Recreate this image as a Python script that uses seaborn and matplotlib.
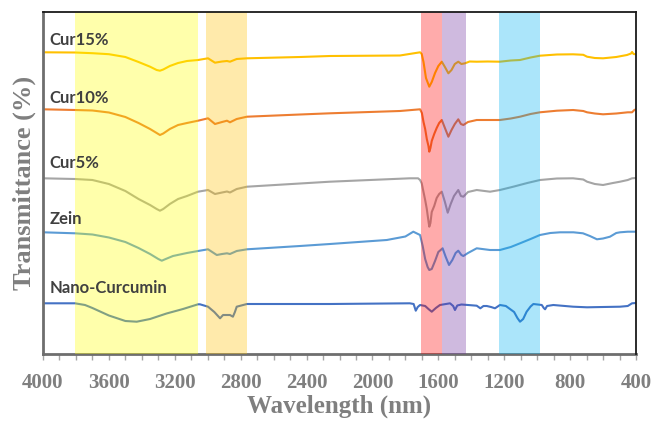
import numpy as np
import pandas as pd
import matplotlib
matplotlib.use("Agg")
import matplotlib.pyplot as plt
import seaborn as sns

# ---- data (wavenumber, transmittance in arbitrary offset units) ----
series_names = ["Cur15%", "Cur10%", "Cur5%", "Zein", "Nano-Curcumin"]
series_colors = ["#FFC000", "#ED7D31", "#A5A5A5", "#5B9BD5", "#4472C4"]

cur15_x = [4000, 3806, 3700, 3600, 3500, 3420, 3350, 3310, 3290, 3270, 3230, 3180, 3126, 3059,
           2998, 2956, 2913, 2883, 2865, 2824, 2762, 2440, 2258, 1833, 1711, 1701, 1690, 1675,
           1655, 1640, 1620, 1600, 1579, 1560, 1539, 1520, 1500, 1479, 1460, 1438, 1410, 1367,
           1300, 1226, 1160, 1104, 1040, 983, 880, 782, 720, 697, 650, 600, 520, 455, 430, 424,
           415, 400]
cur15_y = [301.7, 301.5, 300.8, 299.8, 297, 292, 287.3, 284, 283.3, 284.5, 288, 291, 293, 294,
           295.7, 291.3, 292.5, 293, 292.3, 295, 295.7, 297, 298, 298.5, 301.7, 300, 292, 276,
           267.3, 272, 281, 288, 292.3, 287, 280.7, 284, 290, 292.3, 290, 290.7, 292.5, 292.3,
           292.5, 292.3, 293.5, 294, 296.5, 298.3, 299.5, 299.7, 299.2, 297.3, 296, 295.7, 297, 299,
           300.5, 302, 300, 299.7]

cur10_x = [4000, 3806, 3700, 3600, 3500, 3420, 3350, 3310, 3290, 3270, 3230, 3180, 3126, 3059,
           2998, 2956, 2913, 2883, 2865, 2824, 2762, 2440, 2258, 1833, 1711, 1700, 1690, 1680,
           1670, 1660, 1655, 1648, 1640, 1625, 1610, 1595, 1579, 1560, 1539, 1520, 1500, 1479,
           1463, 1448, 1420, 1367, 1300, 1226, 1160, 1104, 1040, 983, 880, 782, 720, 697, 650, 600,
           520, 450, 424, 410, 400]
cur10_y = [244.7, 244, 243.5, 241.5, 237, 231, 225, 221, 219, 220.5, 225, 229, 231, 233.3,
           235.7, 230, 232, 233.3, 231.7, 235, 237.3, 239.5, 240.7, 243, 244.7, 241, 232, 225,
           215, 208, 202.3, 206, 213, 220, 226, 231, 234, 226, 217.3, 224, 230, 234.7,
           230, 229, 232, 234, 234, 234, 235.5, 237.3, 240, 241.7, 243.3, 244, 243, 241.7, 240.5, 239.7,
           240.5, 241.7, 241.7, 244, 244.7]

cur5_x = [4000, 3806, 3700, 3600, 3500, 3420, 3350, 3310, 3290, 3270, 3230, 3180, 3126, 3059,
          2998, 2956, 2913, 2883, 2865, 2824, 2762, 2440, 2258, 1773, 1723, 1711, 1701, 1690,
          1680, 1670, 1660, 1655, 1648, 1640, 1625, 1610, 1595, 1579, 1560, 1543, 1525, 1505,
          1479, 1463, 1448, 1420, 1367, 1286, 1226, 1145, 1060, 983, 880, 782, 720, 697, 650, 600,
          540, 497, 450, 424, 400]
cur5_y = [175.7, 175, 174, 170, 163, 155, 149, 145, 143.3, 145, 150, 155, 158, 162.3,
          164, 160, 161.5, 162.5, 161.5, 165, 167.3, 170.5, 172.3, 175.7, 175.7, 174, 170.7, 162,
          154, 145, 133, 127.3, 131, 142, 148, 156, 160, 162.3, 152, 141.3, 150, 158,
          164, 158, 157.3, 162, 164, 162.3, 164, 167.3, 171, 174, 175.5, 175.7, 174.5, 172.3, 170, 169,
          171, 172.3, 174, 175.7, 176]

zein_x = [4000, 3806, 3700, 3600, 3500, 3420, 3350, 3300, 3279, 3255, 3211, 3126, 3059,
          2998, 2945, 2913, 2883, 2865, 2824, 2762, 2440, 2258, 1913, 1800, 1752, 1711, 1695,
          1680, 1665, 1655, 1640, 1620, 1600, 1574, 1555, 1535, 1515, 1495, 1479, 1460, 1448,
          1420, 1367, 1286, 1226, 1160, 1104, 1040, 983, 920, 861, 780, 722, 680, 637, 600, 558,
          520, 497, 450, 400]
zein_y = [121.7, 120.7, 119.5, 116.5, 112, 106, 100, 95, 93.3, 95, 98, 101, 103,
          104.7, 99, 100, 100.7, 100, 103, 104.7, 108, 110, 114, 117.5, 122.3, 119, 108,
          95, 87, 84, 85, 93, 102, 105.7, 97, 89, 94, 101, 103.3, 99, 98,
          101, 105.7, 104, 104, 107, 110.7, 115, 119, 121, 121.7, 121.7, 120.7, 118, 114.7, 115.5, 117.3,
          121, 121.7, 122.3, 122.3]

nano_x = [4000, 3806, 3745, 3700, 3600, 3500, 3431, 3350, 3250, 3150, 3059, 3047, 2998, 2960,
          2925, 2907, 2865, 2847, 2835, 2824, 2762, 2258, 1773, 1750, 1737, 1725, 1711, 1680,
          1660, 1640, 1615, 1590, 1529, 1510, 1499, 1485, 1460, 1420, 1367, 1345, 1326, 1306,
          1280, 1256, 1226, 1190, 1165, 1140, 1120, 1104, 1085, 1064, 1040, 1023, 972, 960, 952,
          940, 902, 782, 697, 600, 497, 450, 424, 400]
nano_y = [50.7, 50.7, 49, 46, 38.5, 33, 32.3, 35, 40.5, 45, 49.7, 49.7, 47.3, 42,
          35.7, 39, 39, 37.3, 42, 47.3, 50, 50, 50.7, 50, 43.3, 47, 49, 48,
          45, 42.3, 46, 49, 50.7, 48, 44, 48.5, 49.5, 49, 48.3, 45.7, 48, 48,
          47, 45.7, 49, 48, 45, 42, 36, 32.3, 35, 42.3, 47.5, 50, 49, 46, 44.7,
          48, 49, 47.3, 46.7, 47, 47.3, 48, 50.7, 51]

# highlighted bands (wavenumber ranges) and colours
band_lo = [3060, 2762, 1580, 1435, 985]
band_hi = [3806, 3010, 1705, 1580, 1230]
band_colors = ["#FFFF00", "#FFC000", "#FF0000", "#7030A0", "#00B0F0"]

# label positions (transmittance units)
label_y = [314, 256, 191, 135, 66]

x_ticks = [4000, 3600, 3200, 2800, 2400, 2000, 1600, 1200, 800, 400]

# ---- build long-form table ----
xs = [cur15_x, cur10_x, cur5_x, zein_x, nano_x]
ys = [cur15_y, cur10_y, cur5_y, zein_y, nano_y]
df = pd.concat([pd.DataFrame({"wn": x, "T": y, "series": n}) for x, y, n in zip(xs, ys, series_names)],
               ignore_index=True)

sns.set_style("white")
fig = plt.figure(figsize=(6.52, 4.22), dpi=100)
ax = fig.add_axes([43 / 652, 1 - 354 / 422, 593 / 652, 342 / 422])

sns.lineplot(data=df, x="wn", y="T", hue="series", palette=dict(zip(series_names, series_colors)),
             estimator=None, sort=True, linewidth=1.5, legend=False, ax=ax)
for line in ax.lines:
    line.set_solid_joinstyle("round")

for lo, hi, c in zip(band_lo, band_hi, band_colors):
    ax.axvspan(lo, hi, color=c, alpha=0.33, lw=0, zorder=5)

ax.set_xlim(4000, 400)
ax.set_ylim(0, 342)
ax.set_xticks(x_ticks)
ax.set_xticks(np.arange(400, 4001, 100), minor=True)
ax.set_yticks([])

serif = {"family": "Liberation Serif", "weight": "bold", "color": "#7F7F7F"}
ax.set_xticklabels([str(t) for t in x_ticks], fontdict={**serif, "size": 15})
ax.set_xlabel("Wavelength (nm)", fontdict={**serif, "size": 18}, labelpad=1)
ax.set_ylabel("Transmittance (%)", fontdict={**serif, "size": 19}, labelpad=5)

ax.tick_params(axis="x", which="both", direction="out", length=4, width=1, color="#A6A6A6",
               bottom=True, pad=10)

for s in ["left", "bottom"]:
    ax.spines[s].set_color("#6E6E6E")
    ax.spines[s].set_linewidth(2)
for s in ["top", "right"]:
    ax.spines[s].set_color("#1A1A1A")
    ax.spines[s].set_linewidth(1.3)
    ax.spines[s].set_zorder(6)

for name, yv in zip(series_names, label_y):
    ax.text(3960, yv, name, fontsize=12, fontweight="bold", family="Lato", color="#404040",
            va="center", ha="left", zorder=7)

fig.savefig("out.png", dpi=100)
